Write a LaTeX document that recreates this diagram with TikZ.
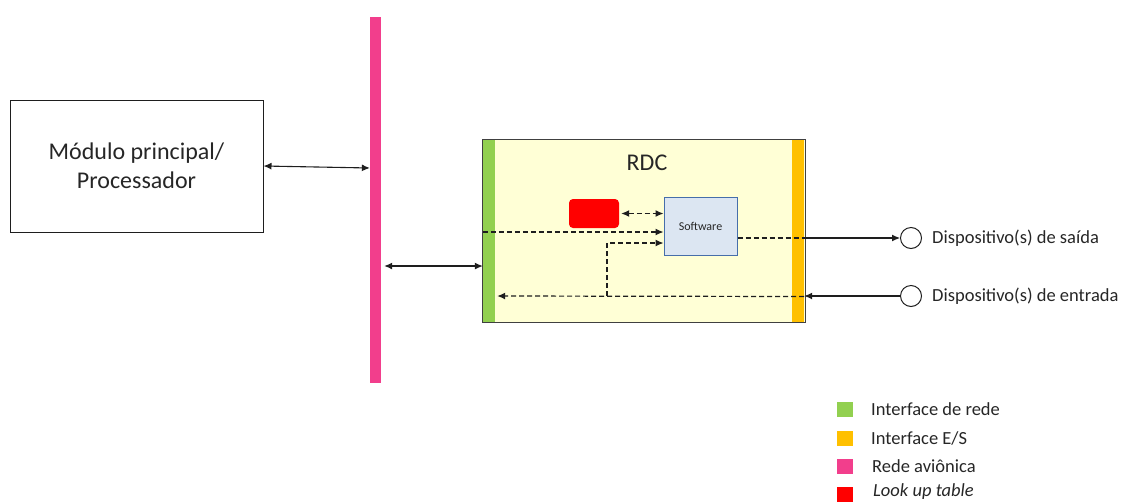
\documentclass[tikz,border=0pt]{standalone}
\usepackage{fontspec}
\setmainfont{Carlito}
\usetikzlibrary{arrows.meta}
\definecolor{pinkbar}{RGB}{242,62,140}
\definecolor{greenbar}{RGB}{146,208,80}
\definecolor{orangebar}{RGB}{255,192,0}
\definecolor{rdcfill}{RGB}{255,255,214}
\definecolor{swfill}{RGB}{220,230,242}
\definecolor{swdraw}{RGB}{70,110,170}
\definecolor{redbox}{RGB}{255,0,0}
\definecolor{linegray}{RGB}{30,30,30}
\begin{document}
\begin{tikzpicture}[x=1pt,y=-1pt,
  arr/.style={-{Latex[length=8pt,width=7pt]}, line width=1.1pt, draw=linegray},
  darr/.style={{Latex[length=8pt,width=7pt]}-{Latex[length=8pt,width=7pt]}, line width=1.1pt, draw=linegray},
  dsh/.style={dash pattern=on 5pt off 3pt, line width=1.2pt},
  bar/.style={draw=none, inner sep=0, minimum width=12pt, minimum height=182pt},
  lbl/.style={font=\fontsize{18.5}{20}\selectfont, anchor=west, inner sep=0, text=black!85},
  legsq/.style={draw=none, inner sep=0, minimum width=16pt, minimum height=15pt},
  dev/.style={draw=linegray, line width=1pt, circle, inner sep=0, minimum size=21pt}]
\useasboundingbox (0,0) rectangle (1126,501);

% main module
\node[draw=linegray, line width=1pt, minimum width=253pt, minimum height=132pt, align=center,
  font=\fontsize{24}{29}\selectfont, text=black!85] (main) at (136.5,166) {Módulo principal/\\Processador};

% avionic network bar
\node[fill=pinkbar, draw=none, inner sep=0, minimum width=11pt, minimum height=366pt] (pink) at (375.5,200) {};

% RDC box
\node[fill=rdcfill, draw=none, inner sep=0, minimum width=322pt, minimum height=182pt] (rdc) at (644,231) {};
\node[bar, fill=greenbar] (green) at (489,231) {};
\node[bar, fill=orangebar] (orange) at (798,231) {};
\draw[linegray!85, line width=1.1pt] (rdc.north west) rectangle (rdc.south east);
\node[font=\fontsize{24}{28}\selectfont, text=black!85] (rdclbl) at (647,163) {RDC};

% look up table and software
\node[fill=redbox, draw=none, rounded corners=4pt, minimum width=50pt, minimum height=29pt, inner sep=0] (lut) at (594,213.5) {};
\node[fill=swfill, draw=swdraw, line width=1pt, minimum width=73pt, minimum height=58pt, inner sep=0,
  font=\fontsize{12}{14}\selectfont, text=black!85] (sw) at (700.5,226) {Software};

% devices
\node[dev] (out) at (911,238) {};
\node[dev] (in) at (911,296) {};
\node[lbl] (outlbl) at (932,238) {Dispositivo(s) de saída};
\node[lbl] (inlbl) at (932,296) {Dispositivo(s) de entrada};

% solid connectors
\draw[darr] (main.east) -- (pink.west |- 0,168);
\draw[darr] ([xshift=3pt]pink.east |- 0,266) -- (green.west |- 0,266);
\draw[arr] (orange.east |- out.west) -- (out.west);
\draw[arr] (in.west) -- (orange.east |- in.west);

% dashed connectors inside the RDC
\draw[darr, dsh] ([xshift=2pt]lut.east) -- (sw.west |- lut.east);
\draw[arr, dsh] (green.west |- 0,232) -- (sw.west |- 0,232);
\coordinate (split) at (607,296);
\draw[arr, dsh] (split) -- (split |- 0,243) -- (sw.west |- 0,243);
\draw[arr, dsh] (orange.east |- 0,296.5) -- ([xshift=2pt]green.east |- 0,296);
\draw[dsh, linegray] (sw.east |- 0,238) -- (orange.east |- 0,238);

% legend
\node[legsq, fill=greenbar] (l1) at (845,409.5) {};
\node[legsq, fill=orangebar] (l2) at (845,438.5) {};
\node[legsq, fill=pinkbar] (l3) at (845,466.5) {};
\node[legsq, fill=redbox] (l4) at (845,494) {};
\node[lbl] (t1) at (871,409.5) {Interface de rede};
\node[lbl] (t2) at (871,438.5) {Interface E/S};
\node[lbl] (t3) at (872,466.5) {Rede aviônica};
\node[lbl, font=\fontsize{18.5}{20}\selectfont\itshape] (t4) at (873,492) {Look up table};
\end{tikzpicture}
\end{document}
